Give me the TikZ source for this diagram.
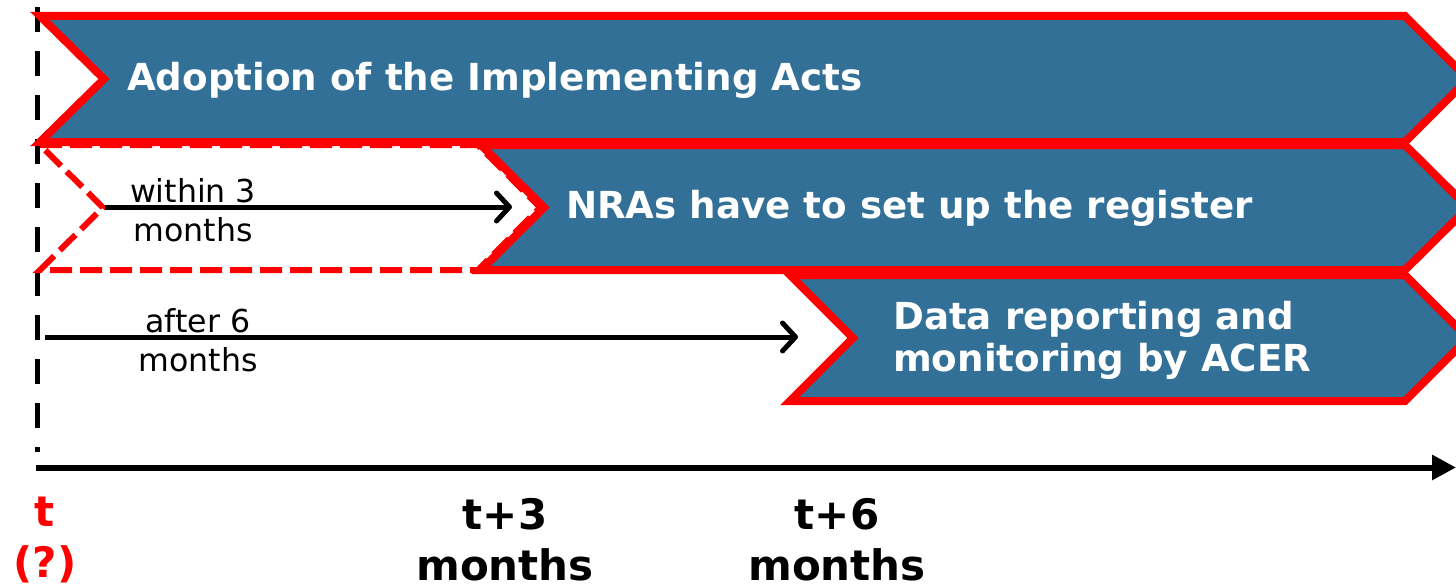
\documentclass[tikz,border=0pt]{standalone}
\usepackage{fontspec}
\setmainfont{DejaVu Sans}
\usetikzlibrary{arrows.meta}
\definecolor{chevblue}{RGB}{50,112,152}
\definecolor{chevred}{RGB}{255,0,0}
\begin{document}
\begin{tikzpicture}[x=1pt,y=-1pt,
  chev/.style={fill=chevblue,draw=chevred,line width=8pt,miter limit=10},
  ghostchev/.style={draw=chevred,line width=6pt,dash pattern=on 22pt off 8pt},
  chevtext/.style={text=white,font=\fontsize{37.2}{42}\selectfont\bfseries,anchor=west,align=left,inner sep=0pt},
  spanlabel/.style={font=\fontsize{31.6}{39}\selectfont,align=center,inner sep=0pt},
  spanarrow/.style={line width=5pt,-{Straight Barb[length=13pt,width=28pt,line cap=round,line join=round]}},
  ticklabel/.style={font=\fontsize{42}{51}\selectfont\bfseries,align=center,inner sep=0pt},
  timeline/.style={line width=6pt,-{Triangle[length=24pt,width=24pt]}}]
\useasboundingbox (0,0) rectangle (1456,586);
\clip (0,0) rectangle (1456,586);
% start marker
\coordinate (vtop) at (37,7);
\coordinate (vbot) at (37,452);
\draw[line width=5pt,dash pattern=on 25pt off 19pt] (vtop) -- (vbot);
% chevrons
\draw[chev] (40,16) -- (1405,16) -- (1468,79) -- (1405,142) -- (40,142) -- (104,79) -- cycle;
\draw[chev] (481,145) -- (1405,145) -- (1468,207.5) -- (1405,270) -- (481,270) -- (544,207.5) -- cycle;
\draw[ghostchev] (40,145) -- (478,145) -- (540,207.5) -- (478,270) -- (40,270) -- (103,207.5) -- cycle;
\draw[chev] (790,275) -- (1405,275) -- (1468,338) -- (1405,401) -- (790,401) -- (853,338) -- cycle;
\node[chevtext] (adopt) at (127,80) {Adoption of the Implementing Acts};
\node[chevtext] (nra) at (566,208) {NRAs have to set up the register};
\node[chevtext] (data) at (893,340) {Data reporting and\\monitoring by ACER};
% spans
\coordinate (a1s) at (105,207);
\coordinate (a1e) at (512,207);
\coordinate (a2s) at (45,337);
\coordinate (a2e) at (798,337);
\draw[spanarrow] (a1s) -- (a1e);
\draw[spanarrow] (a2s) -- (a2e);
\node[spanlabel] (within) at (193,210) {within 3\\months};
\node[spanlabel] (after) at (198,340) {after 6\\months};
% time axis
\coordinate (ax0) at (36,467.5);
\coordinate (ax1) at (1456,467.5);
\draw[timeline] (ax0) -- (ax1);
\node[ticklabel,text=chevred] (t0) at (45,540) {t\\(?)};
\node[ticklabel] (t3) at (505,540) {t+3\\months};
\node[ticklabel] (t6) at (837,540) {t+6\\months};
\end{tikzpicture}
\end{document}
